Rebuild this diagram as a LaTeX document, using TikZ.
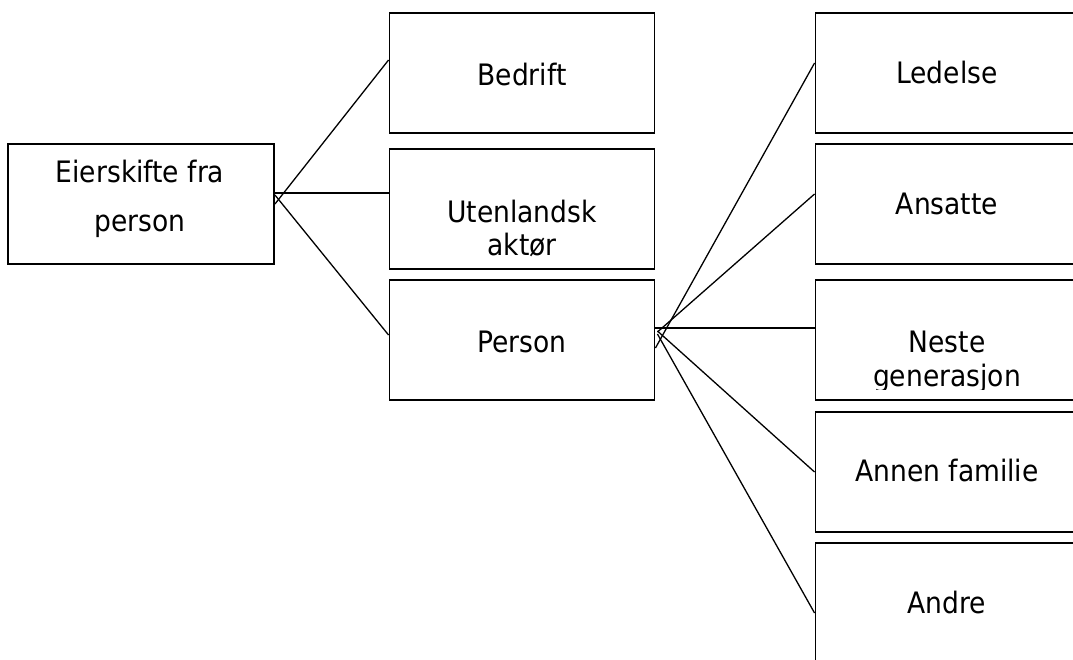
\documentclass[tikz,border=0pt]{standalone}
\usepackage{fontspec}
\setmainfont{DejaVu Sans Condensed}
\begin{document}
\begin{tikzpicture}[x=1pt,y=-1pt,
  box/.style={draw=black,line width=1.9pt,rectangle,minimum width=265pt,minimum height=120pt,inner sep=0pt},
  lbl/.style={anchor=base,align=center,inner sep=0pt,font=\fontsize{29.5}{33}\selectfont},
  link/.style={line width=1.3pt}]
\useasboundingbox (0,0) rectangle (1073,659);
\clip (0,0) rectangle (1073,659);

% owner (left column)
\node[box,minimum width=266pt] (src) at (141,204) {};
\node[lbl,font=\fontsize{29.5}{49}\selectfont] (src-t) at (140,231) {Eierskifte fra\\person};

% buyer categories (middle column)
\node[box] (bedrift) at (522,73) {};
\node[box] (utl) at (522,209) {};
\node[box] (person) at (522,340) {};
\node[lbl] (bedrift-t) at (522,85) {Bedrift};
\node[lbl] (utl-t) at (522,255) {Utenlandsk\\aktør};
\node[lbl] (person-t) at (522,352) {Person};

% kinds of personal buyer (right column)
\node[box] (ledelse) at (948,73) {};
\node[box] (ansatte) at (948,204) {};
\node[box] (neste) at (948,340) {};
\node[box] (annen) at (948,472) {};
\node[box] (andre) at (948,603) {};
\node[lbl] (ledelse-t) at (947,83) {Ledelse};
\node[lbl] (ansatte-t) at (947,214) {Ansatte};
\begin{scope}
  \clip (816,282) rectangle (1073,389);
  \node[lbl,font=\fontsize{29.5}{34}\selectfont] (neste-t) at (947,386) {Neste\\generasjon};
\end{scope}
\node[lbl] (annen-t) at (947,481) {Annen familie};
\node[lbl] (andre-t) at (947,613) {Andre};

% connectors from the owner
\draw[link] (src.east) -- ([yshift=13pt]bedrift.west);
\draw[link] ([yshift=11pt]src.east) -- ([yshift=16pt]utl.west);
\draw[link] ([yshift=9pt]src.east) -- ([yshift=5pt]person.west);

% connectors from the personal buyer
\draw[link] ([yshift=-8pt]person.east) -- ([yshift=10pt]ledelse.west);
\draw[link] ([xshift=2pt,yshift=8pt]person.east) -- ([yshift=10pt]ansatte.west);
\draw[link] ([yshift=12pt]person.east) -- ([yshift=12pt]neste.west);
\draw[link] ([xshift=2pt,yshift=9pt]person.east) -- (annen.west);
\draw[link] ([xshift=2pt,yshift=6pt]person.east) -- ([yshift=-10pt]andre.west);
\end{tikzpicture}
\end{document}
